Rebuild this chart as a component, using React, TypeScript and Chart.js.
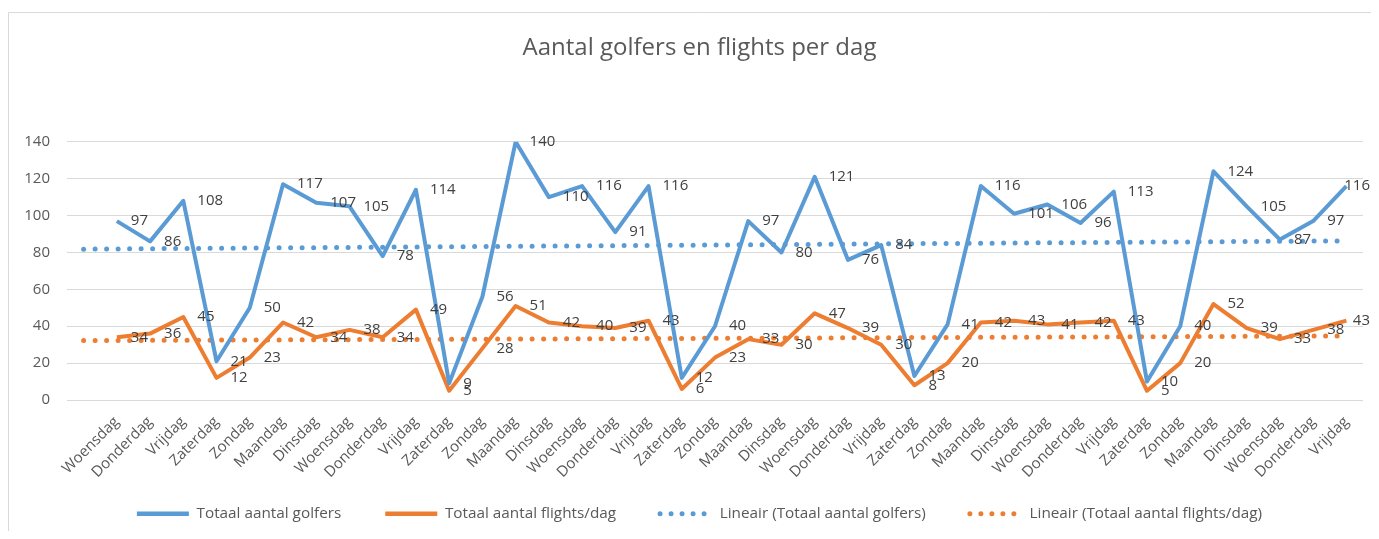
import React, { useEffect, useRef } from 'react';
import { Chart, registerables } from 'chart.js';

Chart.register(...registerables);

// Category labels (first slot is the empty backward-forecast slot of the trend lines)
const dayLabels: string[] = [
  '',
  'Woensdag', 'Donderdag', 'Vrijdag', 'Zaterdag', 'Zondag', 'Maandag', 'Dinsdag',
  'Woensdag', 'Donderdag', 'Vrijdag', 'Zaterdag', 'Zondag', 'Maandag', 'Dinsdag',
  'Woensdag', 'Donderdag', 'Vrijdag', 'Zaterdag', 'Zondag', 'Maandag', 'Dinsdag',
  'Woensdag', 'Donderdag', 'Vrijdag', 'Zaterdag', 'Zondag', 'Maandag', 'Dinsdag',
  'Woensdag', 'Donderdag', 'Vrijdag', 'Zaterdag', 'Zondag', 'Maandag', 'Dinsdag',
  'Woensdag', 'Donderdag', 'Vrijdag',
];

const golfers: number[] = [
  97, 86, 108, 21, 50, 117, 107, 105, 78, 114,
  9, 56, 140, 110, 116, 91, 116, 12, 40, 97,
  80, 121, 76, 84, 13, 41, 116, 101, 106, 96,
  113, 10, 40, 124, 105, 87, 97, 116,
];

const flights: number[] = [
  34, 36, 45, 12, 23, 42, 34, 38, 34, 49,
  5, 28, 51, 42, 40, 39, 43, 6, 23, 33,
  30, 47, 39, 30, 8, 20, 42, 43, 41, 42,
  43, 5, 20, 52, 39, 33, 38, 43,
];

// Linear trend lines: value at first slot and at last category
const golfersTrend: number[] = [81.8, 86.3];
const flightsTrend: number[] = [32.2, 34.7];

const yTicks: number[] = [0, 20, 40, 60, 80, 100, 120, 140];

const BLUE = '#5B9BD5';
const ORANGE = '#ED7D31';
const TEXT = '#595959';
const FONT = "'Open Sans', sans-serif";

const legendNames: string[] = [
  'Totaal aantal golfers',
  'Totaal aantal flights/dag',
  'Lineair (Totaal aantal golfers)',
  'Lineair (Totaal aantal flights/dag)',
];

function trendSeries(t: number[]): (number | null)[] {
  const arr: (number | null)[] = dayLabels.map(() => null);
  arr[0] = t[0];
  arr[dayLabels.length - 1] = t[1];
  return arr;
}

const VISIBLE_RIGHT = 1362;

const borderPlugin = {
  id: 'frame',
  beforeDraw(chart: any) {
    const ctx = chart.ctx;
    ctx.save();
    ctx.strokeStyle = '#d9d9d9';
    ctx.lineWidth = 1;
    ctx.beginPath();
    ctx.moveTo(0.5, chart.height);
    ctx.lineTo(0.5, 4.5);
    ctx.lineTo(chart.width, 4.5);
    ctx.stroke();
    ctx.restore();
  },
};

const pointLabelPlugin = {
  id: 'pointLabels',
  afterDatasetsDraw(chart: any) {
    const ctx = chart.ctx;
    ctx.save();
    ctx.font = `15px ${FONT}`;
    ctx.fillStyle = '#404040';
    ctx.textAlign = 'left';
    ctx.textBaseline = 'middle';
    [0, 1].forEach((di) => {
      const meta = chart.getDatasetMeta(di);
      const ds = chart.data.datasets[di];
      meta.data.forEach((pt: any, i: number) => {
        const v = ds.data[i];
        if (v === null || v === undefined) return;
        const txt = String(v);
        const w = ctx.measureText(txt).width;
        let x = pt.x + 14;
        if (x + w > VISIBLE_RIGHT) x = VISIBLE_RIGHT - w;
        ctx.fillText(txt, x, pt.y);
      });
    });
    ctx.restore();
  },
};

export default function App() {
  const ref = useRef<HTMLCanvasElement | null>(null);

  useEffect(() => {
    if (!ref.current) return;
    const chart = new Chart(ref.current, {
      type: 'line',
      data: {
        labels: dayLabels,
        datasets: [
          {
            label: legendNames[0],
            data: [null, ...golfers],
            borderColor: BLUE,
            backgroundColor: BLUE,
            borderWidth: 4,
            pointRadius: 0,
            tension: 0,
            borderJoinStyle: 'round',
            order: 1,
          },
          {
            label: legendNames[1],
            data: [null, ...flights],
            borderColor: ORANGE,
            backgroundColor: ORANGE,
            borderWidth: 4,
            pointRadius: 0,
            tension: 0,
            borderJoinStyle: 'round',
            order: 2,
          },
          {
            label: legendNames[2],
            data: trendSeries(golfersTrend),
            borderColor: BLUE,
            backgroundColor: BLUE,
            borderWidth: 5,
            borderDash: [0, 11.5],
            borderCapStyle: 'round',
            pointRadius: 0,
            spanGaps: true,
            order: 3,
          },
          {
            label: legendNames[3],
            data: trendSeries(flightsTrend),
            borderColor: ORANGE,
            backgroundColor: ORANGE,
            borderWidth: 5,
            borderDash: [0, 11.5],
            borderCapStyle: 'round',
            pointRadius: 0,
            spanGaps: true,
            order: 4,
          },
        ] as any,
      },
      options: {
        responsive: false,
        animation: false,
        layout: { padding: 0 },
        plugins: {
          title: {
            display: true,
            text: 'Aantal golfers en flights per dag',
            color: TEXT,
            font: { family: FONT, size: 24, weight: 'normal' },
            padding: { top: 26, bottom: 79 },
          },
          legend: {
            position: 'bottom',
            maxHeight: 69,
            labels: {
              color: TEXT,
              font: { family: FONT, size: 15.3 },
              usePointStyle: true,
              pointStyleWidth: 52,
              padding: 44,
              generateLabels: () =>
                legendNames.map((name, i) => {
                  const color = i % 2 === 0 ? BLUE : ORANGE;
                  const dotted = i >= 2;
                  return {
                    text: name,
                    fillStyle: color,
                    strokeStyle: color,
                    fontColor: TEXT,
                    lineWidth: dotted ? 5 : 4.5,
                    lineDash: dotted ? [0, 11] : [],
                    lineCap: dotted ? 'round' : 'butt',
                    pointStyle: 'line',
                    hidden: false,
                    datasetIndex: i,
                  } as any;
                }),
            },
          },
          tooltip: { enabled: false },
        },
        scales: {
          x: {
            type: 'category',
            offset: true,
            grid: { display: false },
            border: { display: false },
            ticks: {
              color: TEXT,
              font: { family: FONT, size: 15 },
              autoSkip: false,
              minRotation: 45,
              maxRotation: 45,
              padding: 5,
            },
            afterFit: (s: any) => {
              s.height = 62;
              s._computeLabelArea = () => undefined;
            },
          },
          y: {
            type: 'linear',
            min: 0,
            max: 140,
            afterBuildTicks: (s: any) => {
              s.ticks = yTicks.map((v) => ({ value: v }));
            },
            grid: { color: '#d9d9d9', lineWidth: 1, drawTicks: false },
            border: { display: false },
            ticks: {
              color: TEXT,
              font: { family: FONT, size: 15 },
              padding: 17,
            },
            afterFit: (s: any) => {
              s.width = 59;
            },
          },
          r: {
            type: 'linear',
            position: 'right',
            display: true,
            grid: { display: false },
            border: { display: false },
            ticks: { display: false },
            afterFit: (s: any) => {
              s.width = 28;
            },
          },
        },
      } as any,
      plugins: [borderPlugin, pointLabelPlugin],
    });
    return () => chart.destroy();
  }, []);

  return (
    <div style={{ width: 1371, height: 523, overflow: 'hidden', position: 'relative' }}>
      <canvas ref={ref} width={1383} height={523} style={{ display: 'block' }} />
    </div>
  );
}
